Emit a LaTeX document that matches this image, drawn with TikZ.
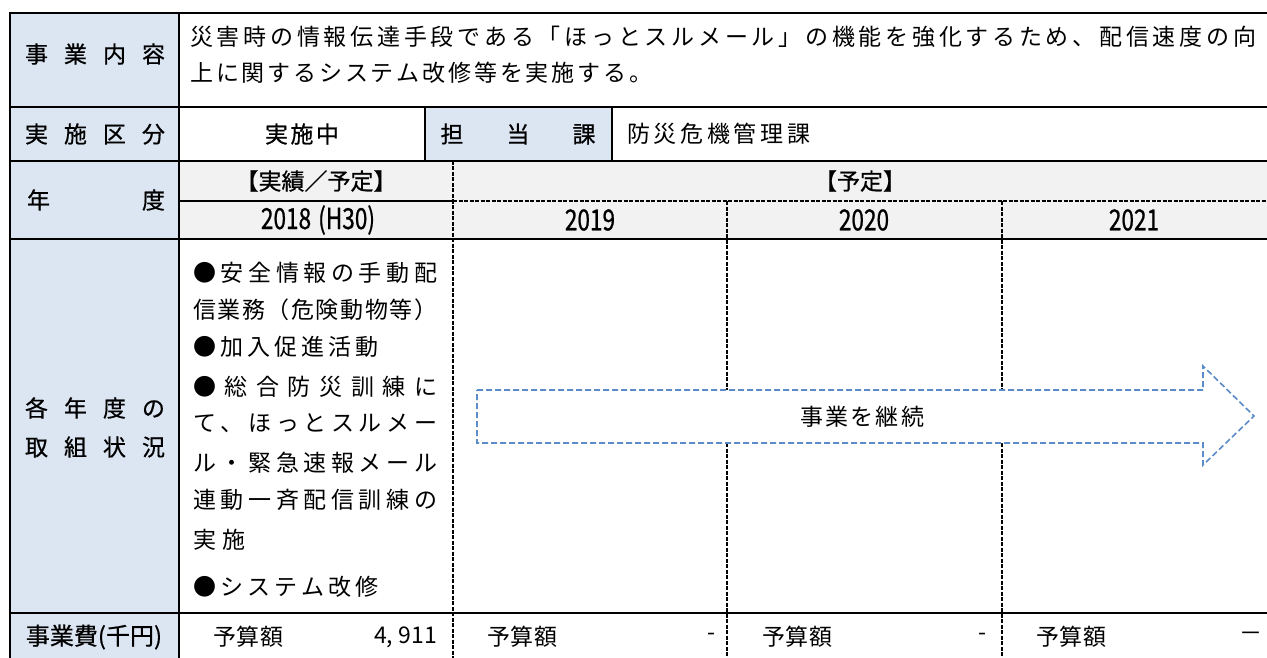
\documentclass[tikz,border=0pt]{standalone}
\usepackage{fontspec}
\newfontfamily\mc{Noto Sans CJK JP}
\newfontfamily\gt{Noto Sans CJK JP}[FakeBold=0.6]
\newfontfamily\dg{Noto Sans CJK JP}[FakeBold=0.9]
\definecolor{lblblue}{HTML}{DCE6F2}
\definecolor{hdrgray}{HTML}{F2F2F2}
\definecolor{arrowblue}{HTML}{5B8BC8}
\def\spr#1{#1\sprx}
\def\sprx#1{\ifx#1\relax\else\hfil#1\expandafter\sprx\fi}
\newcommand{\spbox}[2]{\makebox[#1pt][s]{\spr#2\relax}}
\newcommand{\yr}[1]{\scalebox{0.78}[1]{\dg\fontsize{29}{29}\selectfont #1}}
\tikzset{
  solidline/.style={line width=2pt, black},
  dashline/.style={line width=1.9pt, black, dash pattern=on 4pt off 1.5pt},
  gtxt/.style={font={\gt\fontsize{23}{23}\selectfont}, inner sep=0pt},
  mtxt/.style={font={\mc\fontsize{23}{23}\selectfont}, inner sep=0pt},
  arrowbox/.style={draw=arrowblue, line width=1.6pt, dash pattern=on 6pt off 3pt, fill=white},
}
\begin{document}
\begin{tikzpicture}[x=1pt,y=-1pt]
\useasboundingbox (0,0) rectangle (1267,658);
\fill[white] (0,0) rectangle (1267,658);
% fills
\fill[lblblue] (10,13) rectangle (179,658);
\fill[lblblue] (425,107) rectangle (612,161);
\fill[hdrgray] (179,161) rectangle (1267,239);
% dashed lines
\draw[dashline] (453,161) -- (453,658);
\draw[dashline] (727,201) -- (727,658);
\draw[dashline] (1002,201) -- (1002,658);
\draw[dashline] (453,201) -- (1267,201);
% solid lines
\draw[solidline] (10,13) -- (1267,13);
\draw[solidline] (10,107) -- (1267,107);
\draw[solidline] (10,161) -- (1267,161);
\draw[solidline] (10,239) -- (1267,239);
\draw[solidline] (10,613) -- (1267,613);
\draw[solidline] (179,201) -- (453,201);
\draw[solidline] (10,12) -- (10,658);
\draw[solidline] (179,12) -- (179,658);
\draw[solidline] (425,107) -- (425,161);
\draw[solidline] (612,107) -- (612,161);
% arrow
\draw[arrowbox] (477,390) -- (1203,390) -- (1203,366) -- (1254,416) -- (1203,465) -- (1203,443) -- (477,443) -- cycle;
\node[mtxt] (arrowtxt) at (862,417) {\spbox{124}{事業を継続}};
% labels
\node[gtxt] (l1) at (95,54) {\spbox{140}{事業内容}};
\node[gtxt] (l2) at (95,134) {\spbox{140}{実施区分}};
\node[gtxt] (l3) at (96,200) {\spbox{138}{年度}};
\node[gtxt] (l4a) at (95,408) {\spbox{140}{各年度の}};
\node[gtxt] (l4b) at (95,447) {\spbox{140}{取組状況}};
\node[gtxt, font={\gt\fontsize{24}{24}\selectfont}] (l5) at (94,637) {事業費(千円)};
% row 1
\node[mtxt, anchor=west] (r1a) at (190,37) {\spbox{1066}{災害時の情報伝達手段である「ほっとスルメール」の機能を強化するため、配信速度の向}};
\node[mtxt, anchor=west] (r1b) at (190,73) {\spbox{462}{上に関するシステム改修等を実施する。}};
% row 2
\node[gtxt] (stat) at (302,134) {\spbox{74}{実施中}};
\node[gtxt] (tanto) at (518,134) {\spbox{155}{担当課}};
\node[mtxt, anchor=west] (ka) at (627,134) {\spbox{183}{防災危機管理課}};
% row 3
\node[gtxt] (h1) at (316,181) {【実績／予定】};
\node[gtxt] (h2) at (860,181) {【予定】};
\node[inner sep=0pt] (y18) at (318,220) {\yr{2018\hspace{9pt}(H30)}};
\node[inner sep=0pt] (y19) at (590,220) {\yr{2019}};
\node[inner sep=0pt] (y20) at (864,220) {\yr{2020}};
\node[inner sep=0pt] (y21) at (1134,220) {\yr{2021}};
% 2018 column
\node[mtxt, anchor=west] (c1) at (193,273) {\spbox{244}{●安全情報の手動配}};
\node[mtxt, anchor=west] (c2) at (193,310) {\spbox{244}{信業務（危険動物等）}};
\node[mtxt, anchor=west] (c3) at (193,347) {\spbox{185}{●加入促進活動}};
\node[mtxt, anchor=west] (c4) at (193,387) {\spbox{244}{●総合防災訓練に}};
\node[mtxt, anchor=west] (c5) at (193,423) {\spbox{244}{て、ほっとスルメー}};
\node[mtxt, anchor=west] (c6) at (193,463) {\spbox{244}{ル・緊急速報メール}};
\node[mtxt, anchor=west] (c7) at (193,500) {\spbox{244}{連動一斉配信訓練の}};
\node[mtxt, anchor=west] (c8) at (193,540) {\spbox{52}{実施}};
\node[mtxt, anchor=west] (c9) at (193,587) {\spbox{185}{●システム改修}};
% budget row
\node[mtxt, anchor=west] (b1) at (213,637) {\spbox{70}{予算額}};
\node[mtxt, anchor=east] (v1) at (437,637) {4, 911};
\node[mtxt, anchor=west] (b2) at (487,637) {\spbox{70}{予算額}};
\node[mtxt] (v2) at (711,637) {-};
\node[mtxt, anchor=west] (b3) at (762,637) {\spbox{70}{予算額}};
\node[mtxt] (v3) at (982,637) {-};
\node[mtxt, anchor=west] (b4) at (1036,637) {\spbox{70}{予算額}};
\node[mtxt] (v4) at (1251,637) {－};
\end{tikzpicture}
\end{document}
